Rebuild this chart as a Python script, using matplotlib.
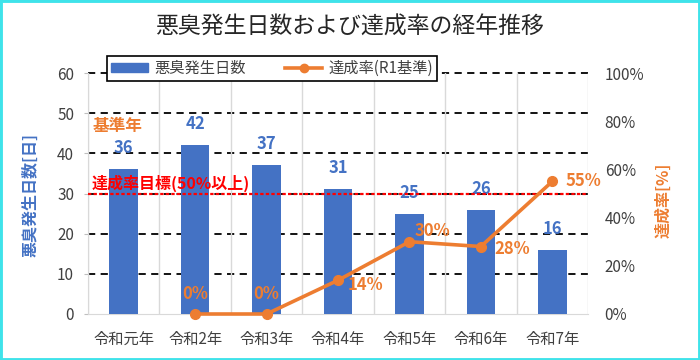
import matplotlib
matplotlib.use('Agg')
import matplotlib.pyplot as plt
from matplotlib.patches import Rectangle, Patch
from matplotlib.lines import Line2D

plt.rcParams['font.family'] = ['Noto Sans CJK JP', 'DejaVu Sans']

categories = ['令和元年', '令和2年', '令和3年', '令和4年', '令和5年', '令和6年', '令和7年']
days = [36, 42, 37, 31, 25, 26, 16]
rate_categories = ['令和2年', '令和3年', '令和4年', '令和5年', '令和6年', '令和7年']
rates = [0, 0, 14, 30, 28, 55]
left_ticks = [0, 10, 20, 30, 40, 50, 60]
right_ticks = [0, 20, 40, 60, 80, 100]
target_rate = 50

BLUE = '#4472C4'
ORANGE = '#ED7D31'
RED = '#FF0000'
GRAY = '#404040'

fig = plt.figure(figsize=(7, 3.6), dpi=100)
ax = fig.add_axes([88/700, 46/360, 500/700, 241/360])
x = list(range(len(categories)))
ax.bar(x, days, width=0.4, color=BLUE, zorder=3)
ax.set_xlim(-0.5, len(categories) - 0.5)
ax.set_ylim(left_ticks[0], left_ticks[-1])
ax.set_yticks(left_ticks)
ax.set_xticks(x)
ax.set_xticklabels(categories)
ax.set_xticks([i - 0.5 for i in range(len(categories) + 1)], minor=True)
ax.grid(which='minor', axis='x', color='#D9D9D9', linewidth=1, zorder=0)
ax.tick_params(axis='x', which='both', length=0, pad=12, labelsize=11, labelcolor=GRAY)
ax.tick_params(axis='y', length=3, color='#BFBFBF', pad=7, labelsize=11, labelcolor=GRAY)
for yv in left_ticks[1:]:
    ax.axhline(yv, color='black', linestyle=(0, (4, 3)), linewidth=1.3, zorder=1, clip_on=False)
for s in ['top', 'right']:
    ax.spines[s].set_visible(False)
ax.spines['left'].set_color('#D9D9D9')
ax.spines['bottom'].set_color('#D9D9D9')

for i, v in enumerate(days):
    ax.annotate(str(v), (i, v), xytext=(0, 21), textcoords='offset pixels',
                ha='center', va='center', color=BLUE, fontsize=12, fontweight='bold', zorder=5)
ax.annotate('基準年', (0, days[0]), xytext=(-6, 43), textcoords='offset pixels',
            ha='center', va='center', color=ORANGE, fontsize=12, fontweight='bold')

ax2 = ax.twinx()
ax2.set_ylim(right_ticks[0], right_ticks[-1])
ax2.set_yticks(right_ticks)
ax2.set_yticklabels([f'{t}%' for t in right_ticks])
ax2.tick_params(axis='y', length=0, pad=12, labelsize=11, labelcolor=GRAY)
for s in ax2.spines.values():
    s.set_visible(False)
ax2.axhline(target_rate, color=RED, linestyle=(0, (1.5, 1)), linewidth=1.6, zorder=2)
ax2.text(-0.45, target_rate + 4.2, '達成率目標(50%以上)', ha='left', va='center',
         color=RED, fontsize=11.5, fontweight='bold', zorder=6)

rx = [categories.index(c) for c in rate_categories]
ax2.plot(rx, rates, color=ORANGE, linewidth=2.6, marker='o', markersize=7, zorder=6, clip_on=False)
offsets = [(0, 20), (0, 20), (27, -5), (23, 11), (31, -2), (31, 0)]
for xi, r, off in zip(rx, rates, offsets):
    ax2.annotate(f'{r}%', (xi, r), xytext=off, textcoords='offset pixels',
                 ha='center', va='center', color=ORANGE, fontsize=12, fontweight='bold', zorder=7)

fig.text(0.5, 1 - 27/360, '悪臭発生日数および達成率の経年推移', ha='center', va='center',
         fontsize=16.5, color='#262626')
fig.text(30/700, 1 - 195/360, '悪臭発生日数[日]', rotation=90, ha='center', va='center',
         color=BLUE, fontsize=11.5, fontweight='bold')
fig.text(663/700, 1 - 200/360, '達成率[%]', rotation=90, ha='center', va='center',
         color=ORANGE, fontsize=11.5, fontweight='bold')

handles = [Patch(facecolor=BLUE, edgecolor=BLUE),
           Line2D([0], [0], color=ORANGE, linewidth=2.6, marker='o', markersize=6)]
leg = fig.legend(handles, ['悪臭発生日数', '達成率(R1基準)'], loc='center',
                 bbox_to_anchor=(272/700, 1 - 68.5/360), ncol=2, frameon=True,
                 fancybox=False, framealpha=1, edgecolor='black', fontsize=11,
                 handlelength=2.4, handleheight=0.5, handletextpad=0.4,
                 columnspacing=2.6, borderpad=0.25, borderaxespad=0)
leg.get_frame().set_linewidth(1.2)
for t in leg.get_texts():
    t.set_color(GRAY)

fig.patches.append(Rectangle((0, 0), 1, 1, transform=fig.transFigure, fill=False,
                             edgecolor='#3FE3EA', linewidth=3.5))

fig.savefig('out.png', dpi=100, facecolor='white')
